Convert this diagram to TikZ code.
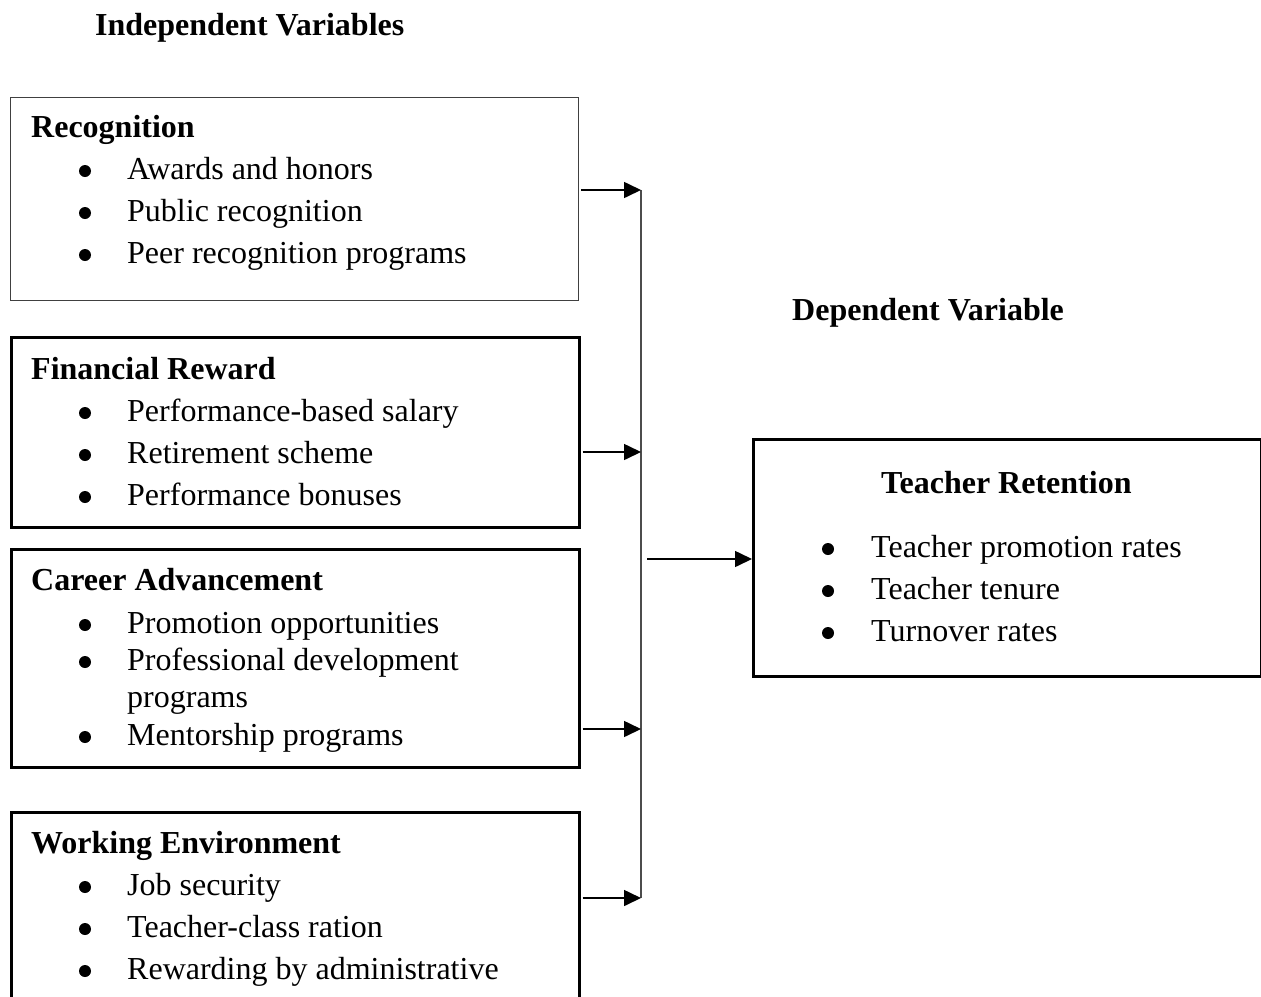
\documentclass[tikz,border=0pt]{standalone}
\usepackage{fontspec}
\setmainfont{Liberation Serif}
\usetikzlibrary{arrows.meta}
\tikzset{
  boxthick/.style={draw=black, line width=2.5pt, minimum width=#1, anchor=north west, inner sep=0pt},
  boxthin/.style={draw=black!75, line width=1.4pt, minimum width=#1, anchor=north west, inner sep=0pt},
  txt/.style={anchor=base west, inner sep=0pt, font=\fontsize{32}{42}\selectfont},
  head/.style={txt, font=\fontsize{32}{42}\selectfont\bfseries},
  bul/.style={anchor=center, circle, fill=black, inner sep=0pt, minimum size=12pt},
  conn/.style={line width=1.6pt, -{Triangle[length=17pt, width=16pt]}},
  bus/.style={draw=black!70, line width=2pt}
}
\begin{document}
\begin{tikzpicture}[x=1pt, y=-1pt]
\useasboundingbox (0,0) rectangle (1261,996);
\clip (0,0) rectangle (1261,996);
% boxes
\node[boxthin=568pt, minimum height=203pt] (rec) at (10,97) {};
\node[boxthick=568pt, minimum height=190pt] (fin) at (10,336) {};
\node[boxthick=568pt, minimum height=218pt] (car) at (10,548) {};
\node[boxthick=568pt, minimum height=230pt] (wrk) at (10,811) {};
\node[boxthick=508pt, minimum height=237pt] (ret) at (752,438) {};
% titles
\node[head] (tind) at (95,35) {Independent Variables};
\node[head] (tdep) at (792,320) {Dependent Variable};
% recognition
\node[head] (h1) at (31,137) {Recognition};
\node[bul] (b11) at (85,171) {}; \node[txt] (t11) at (127,179) {Awards and honors};
\node[bul] (b12) at (85,213) {}; \node[txt] (t12) at (127,221) {Public recognition};
\node[bul] (b13) at (85,255) {}; \node[txt] (t13) at (127,263) {Peer recognition programs};
% financial
\node[head] (h2) at (31,379) {Financial Reward};
\node[bul] (b21) at (85,413) {}; \node[txt] (t21) at (127,421) {Performance-based salary};
\node[bul] (b22) at (85,455) {}; \node[txt] (t22) at (127,463) {Retirement scheme};
\node[bul] (b23) at (85,497) {}; \node[txt] (t23) at (127,505) {Performance bonuses};
% career
\node[head] (h3) at (31,590) {Career Advancement};
\node[bul] (b31) at (85,625) {}; \node[txt] (t31) at (127,633) {Promotion opportunities};
\node[bul] (b32) at (85,662) {}; \node[txt] (t32) at (127,670) {Professional development};
\node[txt] (t32b) at (127,707) {programs};
\node[bul] (b33) at (85,737) {}; \node[txt] (t33) at (127,745) {Mentorship programs};
% working
\node[head] (h4) at (31,853) {Working Environment};
\node[bul] (b41) at (85,887) {}; \node[txt] (t41) at (127,895) {Job security};
\node[bul] (b42) at (85,929) {}; \node[txt] (t42) at (127,937) {Teacher-class ration};
\node[bul] (b43) at (85,971) {}; \node[txt] (t43) at (127,979) {Rewarding by administrative};
% retention
\node[head] (h5) at (881,493) {Teacher Retention};
\node[bul] (b51) at (828,549) {}; \node[txt] (t51) at (871,557) {Teacher promotion rates};
\node[bul] (b52) at (828,591) {}; \node[txt] (t52) at (871,599) {Teacher tenure};
\node[bul] (b53) at (828,633) {}; \node[txt] (t53) at (871,641) {Turnover rates};
% connectors
\coordinate (p1) at (641,190);
\coordinate (p2) at (641,452);
\coordinate (p3) at (641,729);
\coordinate (p4) at (641,898);
\coordinate (m) at (647,559);
\draw[bus] (p1) -- (p4);
\draw[conn] ([xshift=2pt]rec.east |- p1) -- (p1);
\draw[conn] ([xshift=2pt]fin.east |- p2) -- (p2);
\draw[conn] ([xshift=2pt]car.east |- p3) -- (p3);
\draw[conn] ([xshift=2pt]wrk.east |- p4) -- (p4);
\draw[conn] (m) -- (ret.west |- m);
\end{tikzpicture}
\end{document}
